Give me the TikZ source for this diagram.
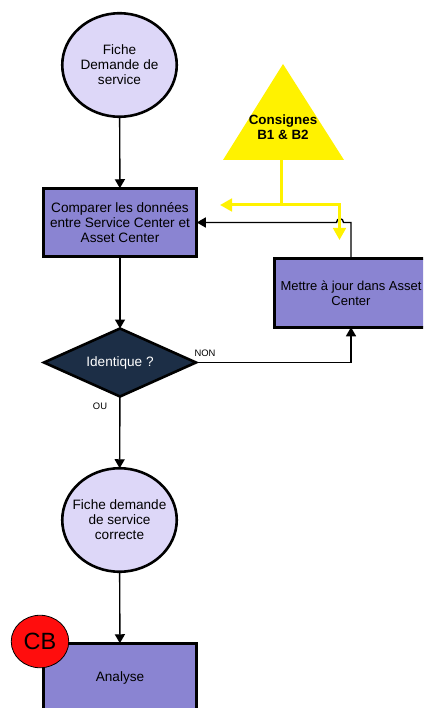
\documentclass[tikz,border=0pt]{standalone}
\usepackage{fontspec}
\setmainfont{Liberation Sans}
\usetikzlibrary{arrows.meta,shapes.geometric,calc}
\definecolor{palefill}{HTML}{DDD7F8}
\definecolor{boxfill}{HTML}{8A84D2}
\definecolor{darkfill}{HTML}{1C2E46}
\definecolor{redfill}{HTML}{FF0D0D}
\tikzset{
  body/.style={font=\fontsize{13.6}{14.9}\selectfont,align=center,text=black,inner sep=0pt},
  roundnode/.style={body,ellipse,draw=black,line width=2.6pt,fill=palefill,minimum width=114.5pt,minimum height=103.5pt,outer sep=0pt,inner sep=-12pt},
  boxnode/.style={body,rectangle,draw=black,line width=2.8pt,fill=boxfill,minimum width=153.5pt,minimum height=68.5pt,outer sep=0pt},
  decisionnode/.style={body,diamond,draw=black,line width=2.6pt,fill=darkfill,text=white,minimum width=152pt,minimum height=68pt,aspect=2.2,outer sep=0pt},
  smalllabel/.style={font=\fontsize{9.4}{10}\selectfont,inner sep=0pt},
  conn/.style={draw=black,line width=1.4pt,-{Triangle[length=9pt,width=10pt]}},
  yconn/.style={draw=yellow,line width=3pt,-{Triangle[length=12pt,width=12.5pt]}},
}
\begin{document}
\begin{tikzpicture}[x=1pt,y=-1pt]
\useasboundingbox (0,0) rectangle (423,708);
\clip (0,0) rectangle (423,708);
\fill[white] (0,0) rectangle (423,708);

\node[roundnode] (fiche) at (119.5,65) {Fiche\\Demande de\\service};
\node[boxnode] (comparer) at (120,222.5) {Comparer les données\\entre Service Center et\\Asset Center};
\node[decisionnode] (ident) at (120,362.5) {Identique ?};
\node[boxnode,font=\fontsize{13}{14.9}\selectfont] (maj) at (351,293) {Mettre à jour dans Asset\\Center};
\node[roundnode] (correcte) at (119.5,520) {Fiche demande\\de service\\correcte};
\node[boxnode] (analyse) at (120,677.5) {Analyse};
\node[ellipse,draw=black,line width=0.8pt,fill=redfill,minimum width=57.5pt,minimum height=52.5pt,inner sep=-6pt,font=\fontsize{23.5}{24}\selectfont] (cb) at (40,641.5) {CB};

\node[smalllabel] (non) at (205,353) {NON};
\node[smalllabel] (ou) at (100,406) {OU};

\draw[conn] (fiche) -- (comparer);
\draw[conn] (comparer) -- (ident);
\draw[conn] (ident) -- (correcte);
\draw[conn] (correcte) -- (analyse);
\draw[conn] (ident.east) -| (maj.south);
\coordinate (hopright) at (343.5,222.5);
\coordinate (hopleft) at (336.5,222.5);
\draw[conn] (maj.north) |- (hopright) .. controls (343.5,217.5) and (336.5,217.5) .. (hopleft) -- (comparer.east);

\fill[yellow] (283,64) -- (344,160) -- (223,160) -- cycle;
\node[body,font=\fontsize{13.4}{14.9}\bfseries\selectfont] (consignes) at (283,127.5) {Consignes\\B1 \& B2};
\coordinate (stemtop) at (281.5,160);
\coordinate (split) at (281.5,205);
\coordinate (yleft) at (220,205);
\coordinate (ycorner) at (339.5,205);
\coordinate (ydown) at (339.5,240);
\draw[draw=yellow,line width=3pt] (stemtop) -- (split);
\draw[yconn] (split) -- (yleft);
\draw[yconn] (split) -- (ycorner) -- (ydown);
\end{tikzpicture}
\end{document}
